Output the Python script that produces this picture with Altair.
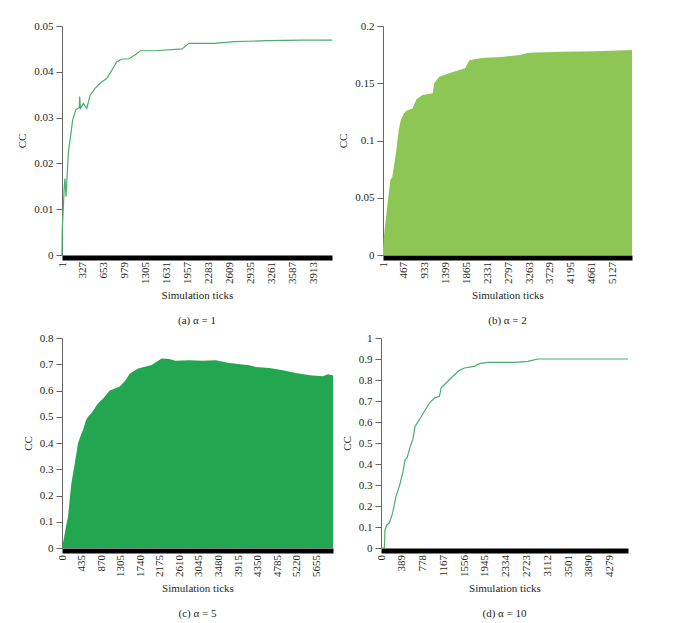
import altair as alt
import pandas as pd

FONT = "Liberation Serif"
TXT = "#231f20"

# ---- panel (a) alpha = 1 ----
a_ticks = [1, 5, 21, 36, 47, 63, 83, 99, 115, 141, 167, 193, 214, 245, 270, 276, 287,
           333, 386, 438, 516, 594, 698, 750, 854, 933, 1037, 1141, 1219, 1454, 1870,
           1974, 2371, 2683, 3204, 3725, 4200]
a_vals = [0, 0.0055, 0.0102, 0.0149, 0.0167, 0.0127, 0.0178, 0.0222, 0.0240, 0.0266,
          0.0295, 0.0306, 0.0317, 0.0320, 0.0322, 0.0346, 0.0320, 0.0331, 0.0320, 0.0349,
          0.0364, 0.0375, 0.0386, 0.0397, 0.0422, 0.0428, 0.0428, 0.0437, 0.0446, 0.0446,
          0.0450, 0.0462, 0.0462, 0.0466, 0.0468, 0.0469, 0.0469]
a_xlabels = [1, 327, 653, 979, 1305, 1631, 1957, 2283, 2609, 2935, 3261, 3587, 3913]
a_ylabels = [0, 0.01, 0.02, 0.03, 0.04, 0.05]

# ---- panel (b) alpha = 2 ----
b_ticks = [1, 37, 112, 165, 209, 299, 352, 397, 471, 524, 658, 748, 882, 1085, 1107,
           1144, 1257, 1481, 1705, 1833, 1930, 2207, 2655, 3052, 3254, 4002, 4750, 5560]
b_vals = [0.007, 0.0218, 0.048, 0.0655, 0.0684, 0.0917, 0.109, 0.118, 0.1237, 0.126,
          0.128, 0.136, 0.1397, 0.141, 0.141, 0.150, 0.1557, 0.1587, 0.1616, 0.163,
          0.170, 0.172, 0.173, 0.1747, 0.1767, 0.1775, 0.178, 0.179]
b_xlabels = [1, 467, 933, 1399, 1865, 2331, 2797, 3263, 3729, 4195, 4661, 5127]
b_ylabels = [0, 0.05, 0.1, 0.15, 0.2]

# ---- panel (c) alpha = 5 ----
c_ticks = [0, 37, 89, 134, 208, 282, 357, 440, 468, 540, 580, 654, 802, 914, 1062,
           1285, 1413, 1508, 1694, 1991, 2216, 2380, 2528, 2826, 3123, 3421, 3718,
           4164, 4313, 4610, 4908, 5205, 5503, 5800, 5912, 6025]
c_vals = [0, 0.032, 0.082, 0.12, 0.246, 0.32, 0.40, 0.44, 0.45, 0.49, 0.50, 0.513,
          0.551, 0.57, 0.60, 0.615, 0.639, 0.665, 0.684, 0.697, 0.722, 0.720, 0.713,
          0.715, 0.713, 0.715, 0.705, 0.696, 0.690, 0.686, 0.677, 0.667, 0.658, 0.654,
          0.662, 0.658]
c_xlabels = [0, 435, 870, 1305, 1740, 2175, 2610, 3045, 3480, 3915, 4350, 4785, 5220, 5655]
c_ylabels = [0, 0.1, 0.2, 0.3, 0.4, 0.5, 0.6, 0.7, 0.8]

# ---- panel (d) alpha = 10 ----
d_ticks = [0, 62, 75, 112, 156, 218, 281, 343, 406, 450, 487, 549, 593, 637, 718, 812,
           905, 999, 1093, 1124, 1249, 1374, 1467, 1561, 1748, 1842, 1998, 2498, 2747,
           2935, 3372, 4620]
d_vals = [0, 0, 0.087, 0.111, 0.119, 0.167, 0.246, 0.294, 0.357, 0.421, 0.429, 0.484,
          0.516, 0.579, 0.611, 0.651, 0.690, 0.714, 0.722, 0.762, 0.794, 0.825, 0.846,
          0.857, 0.865, 0.878, 0.884, 0.884, 0.889, 0.900, 0.900, 0.900]
d_xlabels = [0, 389, 778, 1167, 1556, 1945, 2334, 2723, 3112, 3501, 3890, 4279]
d_ylabels = [0, 0.1, 0.2, 0.3, 0.4, 0.5, 0.6, 0.7, 0.8, 0.9, 1]


def panel(ticks, vals, kind, color, xdom, ymax, xlabels, ylabels, caption, w, h):
    df = pd.DataFrame({"t": ticks, "v": vals})
    base = alt.Chart(df)
    if kind == "line":
        m = base.mark_line(color=color, strokeWidth=1.2)
    else:
        m = base.mark_area(color=color, opacity=1)
    return m.encode(
        x=alt.X("t:Q", scale=alt.Scale(domain=xdom, nice=False, zero=False),
                axis=alt.Axis(values=xlabels, format="d", title="Simulation ticks",
                              labelAngle=-90, ticks=False, domainWidth=5,
                              domainColor="black", offset=2.5, grid=False,
                              labelPadding=4, titlePadding=6)),
        y=alt.Y("v:Q", scale=alt.Scale(domain=[0, ymax], nice=False),
                axis=alt.Axis(values=ylabels, format="~f", title="CC", grid=False,
                              tickSize=6, domainColor="#666", tickColor="#666",
                              labelPadding=3, titlePadding=6)),
    ).properties(
        width=w, height=h,
        title=alt.TitleParams(caption, orient="bottom", anchor="middle", frame="group",
                              font=FONT, fontSize=11, fontWeight="normal", color=TXT,
                              offset=14),
    )


pa = panel(a_ticks, a_vals, "line", "#4aad6c", [1, 4200], 0.05, a_xlabels, a_ylabels,
           "(a)  α = 1", 270, 229)
pb = panel(b_ticks, b_vals, "area", "#8dc655", [1, 5560], 0.2, b_xlabels, b_ylabels,
           "(b)  α = 2", 249, 229)
pc = panel(c_ticks, c_vals, "area", "#22a64f", [0, 6025], 0.8, c_xlabels, c_ylabels,
           "(c)  α = 5", 271, 210)
pd_ = panel(d_ticks, d_vals, "line", "#4aad74", [0, 4620], 1.0, d_xlabels, d_ylabels,
            "(d)  α = 10", 247, 210)

chart = alt.vconcat(
    alt.hconcat(pa, pb, spacing=2),
    alt.hconcat(pc, pd_, spacing=8),
    spacing=6,
).properties(
    padding={"left": 8, "top": 12, "right": 5, "bottom": 5},
    background="white",
).configure_view(stroke=None).configure_axis(
    labelFont=FONT, titleFont=FONT, labelFontSize=11, titleFontSize=11,
    titleFontWeight="normal", labelColor=TXT, titleColor=TXT,
)

chart.save("out.html", embed_options={"renderer": "svg", "actions": False})
